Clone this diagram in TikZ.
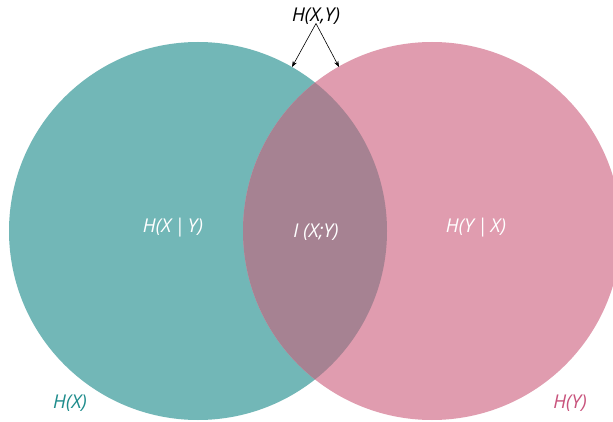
\documentclass[tikz,border=0pt]{standalone}
\usepackage{fontspec}
\setmainfont{Open Sans}
\usetikzlibrary{arrows.meta}
\definecolor{teal1}{HTML}{72B7B7}
\definecolor{pink1}{HTML}{E09CAF}
\definecolor{mauve1}{HTML}{A68292}
\definecolor{tealtxt}{HTML}{1E8C8C}
\definecolor{pinktxt}{HTML}{C8537C}
\tikzset{
  lbl/.style={font=\itshape\fontsize{19}{22}\selectfont, inner sep=0pt},
  inlbl/.style={lbl, text=white},
  arr/.style={-{Stealth[length=6pt,width=4.5pt]}, line width=0.6pt, black},
}
\begin{document}
\begin{tikzpicture}[x=1pt,y=-1pt]
\useasboundingbox (0,0) rectangle (613,422);
\fill[white] (0,0) rectangle (613,422);
\coordinate (cx) at (198,231);
\coordinate (cy) at (432,231);
\fill[teal1] (cx) circle[radius=189];
\fill[pink1] (cy) circle[radius=189];
\begin{scope}
  \clip (cx) circle[radius=189];
  \fill[mauve1] (cy) circle[radius=189];
\end{scope}
\node[inlbl] (hxy) at (173,228) {H(X\,|\,Y)};
\node[inlbl] (ixy) at (316,232) {I (X;Y)};
\node[inlbl] (hyx) at (476,228) {H(Y\,|\,X)};
\node[lbl] (joint) at (316,16) {H(X,Y)};
\node[lbl, text=tealtxt] (hx) at (70,403) {H(X)};
\node[lbl, text=pinktxt] (hy) at (570,403) {H(Y)};
\coordinate (al) at (292,67);
\coordinate (ar) at (339,67);
\draw[arr] (joint.south) ++(0,-1) -- (al);
\draw[arr] (joint.south) ++(0,-1) -- (ar);
\end{tikzpicture}
\end{document}
